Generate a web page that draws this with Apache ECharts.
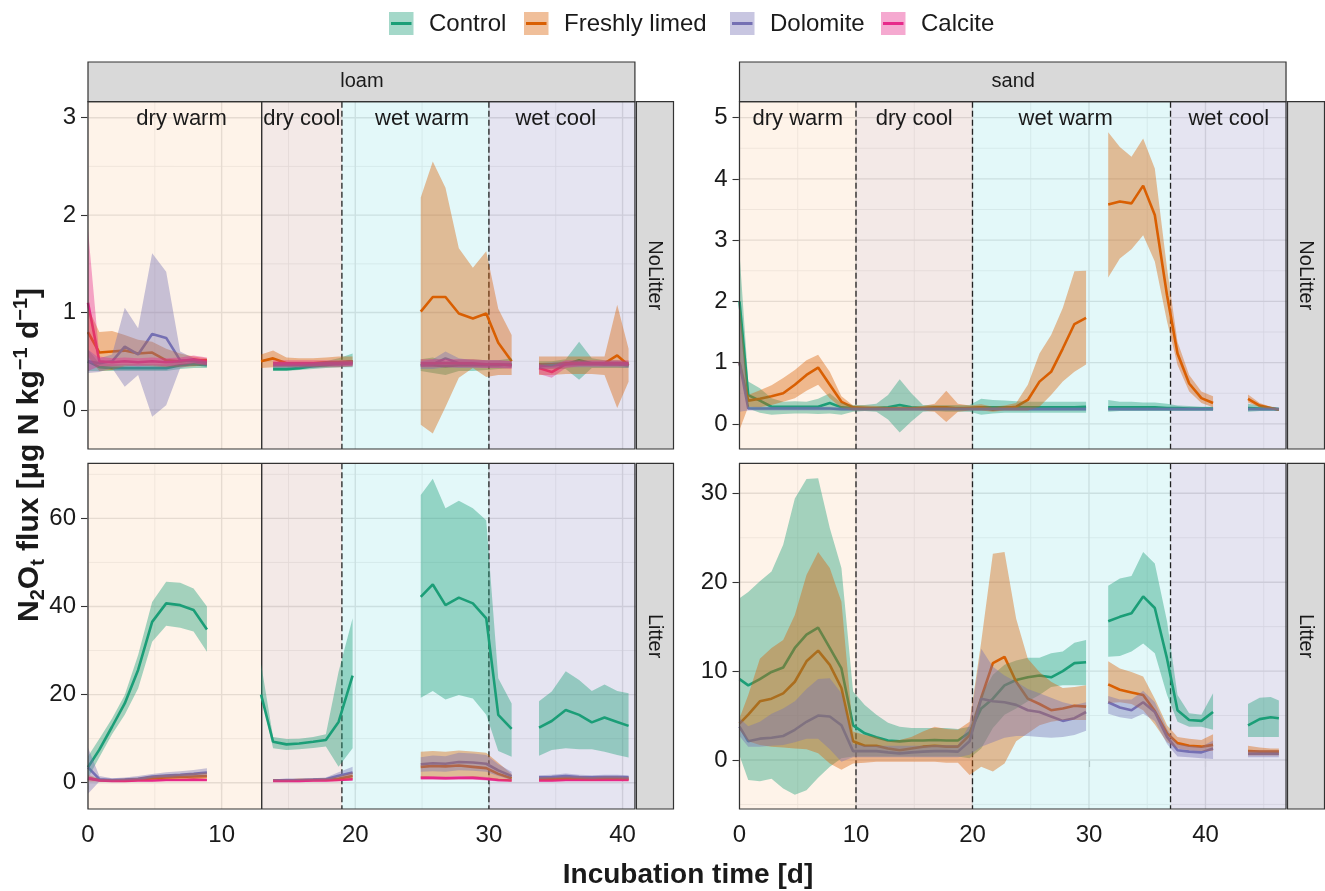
<!DOCTYPE html>
<html>
<head>
<meta charset="utf-8">
<script src="https://cdn.jsdelivr.net/npm/echarts@6.0.0/dist/echarts.min.js"></script>
<style>
  html, body { margin: 0; padding: 0; background: #fff; }
  #main { width: 1325px; height: 891px; }
</style>
</head>
<body>
<div id="main"></div>
<script>
// ---- data ----
var treatments = ['Control', 'Freshly limed', 'Dolomite', 'Calcite'];
var lineColors = ['#1B9E77', '#D95F02', '#7570B3', '#E7298A'];

// sampling days (null = gap between phases)
var loamTime = [
  0, 0.85, 1.8, 2.75, 3.75, 4.8, 5.85, 6.9, 7.9, 8.9, null,
  12.95, 13.85, 14.85, 15.8, 16.85, 17.8, 18.75, 19.8, null,
  24.9, 25.8, 26.75, 27.75, 28.8, 29.8, 30.7, 31.7, null,
  33.75, 34.7, 35.75, 36.75, 37.7, 38.65, 39.6, 40.45
];
var sandTime = [
  0, 0.75, 1.75, 2.75, 3.75, 4.75, 5.75, 6.75, 7.75, 8.75,
  9.75, 10.75, 11.75, 12.75, 13.75, 14.75, 15.75, 16.75, 17.75, 18.75,
  19.75, 20.75, 21.75, 22.75, 23.75, 24.75, 25.75, 26.75, 27.75, 28.75,
  29.75, null,
  31.65, 32.65, 33.65, 34.65, 35.65, 36.7, 37.6, 38.6, 39.65, 40.65, null,
  43.65, 44.65, 45.6, 46.3
];

// loam, NoLitter
var loamNL_ctrl    = [0.50, 0.44, 0.43, 0.43, 0.43, 0.43, 0.43, 0.46, 0.47, 0.46, null, null, 0.42, 0.42, 0.43, 0.45, 0.46, 0.48, 0.50, null, 0.46, 0.46, 0.45, 0.46, 0.46, 0.46, 0.46, 0.47, null, 0.46, 0.46, 0.47, 0.51, 0.48, 0.47, 0.47, 0.46];
var loamNL_ctrl_lo = [0.40, 0.40, 0.40, 0.40, 0.40, 0.40, 0.40, 0.42, 0.43, 0.43, null, null, 0.40, 0.40, 0.41, 0.42, 0.43, 0.44, 0.44, null, 0.40, 0.38, 0.36, 0.40, 0.40, 0.41, 0.42, 0.43, null, 0.42, 0.42, 0.42, 0.31, 0.43, 0.43, 0.43, 0.43];
var loamNL_ctrl_hi = [0.62, 0.48, 0.47, 0.47, 0.47, 0.47, 0.47, 0.50, 0.51, 0.50, null, null, 0.45, 0.45, 0.46, 0.48, 0.50, 0.53, 0.58, null, 0.52, 0.54, 0.50, 0.52, 0.52, 0.51, 0.51, 0.53, null, 0.50, 0.50, 0.52, 0.70, 0.53, 0.51, 0.51, 0.50];
var loamNL_fresh    = [0.80, 0.59, 0.60, 0.61, 0.58, 0.59, 0.51, 0.50, 0.51, 0.51, null, 0.50, 0.53, 0.48, 0.48, 0.48, 0.49, 0.49, 0.50, null, 1.01, 1.16, 1.16, 0.99, 0.94, 0.99, 0.69, 0.50, null, 0.47, 0.47, 0.48, 0.48, 0.48, 0.48, 0.56, 0.46];
var loamNL_fresh_lo = [0.55, 0.40, 0.41, 0.45, 0.46, 0.45, 0.44, 0.44, 0.45, 0.46, null, 0.43, 0.44, 0.44, 0.44, 0.44, 0.44, 0.44, 0.45, null, -0.15, -0.24, 0.03, 0.33, 0.43, 0.34, 0.36, 0.36, null, 0.36, 0.36, 0.37, 0.37, 0.37, 0.36, 0.02, 0.29];
var loamNL_fresh_hi = [1.05, 0.80, 0.81, 0.77, 0.72, 0.70, 0.63, 0.58, 0.55, 0.53, null, 0.57, 0.61, 0.54, 0.53, 0.53, 0.54, 0.55, 0.55, null, 2.18, 2.55, 2.28, 1.66, 1.46, 1.63, 1.04, 0.77, null, 0.55, 0.55, 0.55, 0.55, 0.55, 0.55, 1.08, 0.63];
var loamNL_dolo    = [0.50, 0.48, 0.50, 0.65, 0.57, 0.78, 0.74, 0.51, 0.50, 0.48, null, null, 0.46, 0.46, 0.46, 0.46, 0.47, 0.47, 0.48, null, 0.46, 0.47, 0.53, 0.48, 0.47, 0.47, 0.47, 0.46, null, 0.45, 0.46, 0.47, 0.47, 0.47, 0.47, 0.47, 0.46];
var loamNL_dolo_lo = [0.38, 0.39, 0.43, 0.24, 0.36, -0.07, 0.05, 0.43, 0.46, 0.45, null, null, 0.43, 0.43, 0.43, 0.43, 0.44, 0.44, 0.45, null, 0.42, 0.42, 0.44, 0.43, 0.43, 0.43, 0.43, 0.43, null, 0.42, 0.43, 0.44, 0.44, 0.44, 0.44, 0.44, 0.43];
var loamNL_dolo_hi = [0.62, 0.53, 0.57, 1.05, 0.84, 1.61, 1.42, 0.60, 0.53, 0.50, null, null, 0.49, 0.49, 0.49, 0.49, 0.50, 0.50, 0.51, null, 0.50, 0.52, 0.60, 0.53, 0.51, 0.51, 0.51, 0.50, null, 0.48, 0.49, 0.50, 0.50, 0.50, 0.50, 0.50, 0.49];
var loamNL_calc    = [1.10, 0.50, 0.49, 0.50, 0.49, 0.50, 0.49, 0.50, 0.52, 0.50, null, null, 0.48, 0.48, 0.48, 0.48, 0.48, 0.48, 0.48, null, 0.48, 0.48, 0.48, 0.48, 0.48, 0.47, 0.47, 0.46, null, 0.43, 0.39, 0.47, 0.48, 0.48, 0.48, 0.48, 0.48];
var loamNL_calc_lo = [0.40, 0.45, 0.45, 0.46, 0.45, 0.46, 0.45, 0.46, 0.48, 0.46, null, null, 0.45, 0.45, 0.45, 0.45, 0.45, 0.45, 0.45, null, 0.44, 0.44, 0.44, 0.44, 0.44, 0.43, 0.43, 0.42, null, 0.37, 0.33, 0.43, 0.45, 0.45, 0.45, 0.45, 0.45];
var loamNL_calc_hi = [1.85, 0.55, 0.53, 0.54, 0.53, 0.54, 0.53, 0.54, 0.56, 0.54, null, null, 0.51, 0.51, 0.51, 0.51, 0.51, 0.51, 0.51, null, 0.52, 0.52, 0.52, 0.52, 0.52, 0.51, 0.51, 0.50, null, 0.47, 0.45, 0.51, 0.51, 0.51, 0.51, 0.51, 0.51];

// loam, Litter
var loamL_ctrl    = [3.5, 7.5, 12.7, 18.0, 25.6, 36.5, 40.7, 40.3, 39.2, 34.8, null, 20.0, 9.3, 8.7, 8.9, 9.3, 9.7, 13.8, 24.3, null, 42.2, 45.0, 40.3, 42.0, 40.7, 37.3, 15.4, 12.2, null, 12.5, 14.0, 16.5, 15.4, 13.7, 14.8, 13.8, 12.9];
var loamL_ctrl_lo = [1.0, 5.8, 11.0, 15.4, 21.4, 32.0, 35.6, 35.2, 34.3, 29.7, null, 19.9, 7.8, 7.4, 7.6, 7.9, 8.2, 3.6, 7.8, null, 19.3, 20.8, 18.9, 19.9, 19.1, 15.4, 7.2, 5.9, null, 6.1, 7.4, 7.8, 7.6, 7.6, 7.0, 6.3, 5.7];
var loamL_ctrl_hi = [6.0, 10.0, 14.6, 19.9, 29.0, 41.0, 45.6, 45.4, 44.1, 40.0, null, 27.0, 10.4, 9.9, 10.0, 10.4, 11.0, 25.2, 37.3, null, 65.3, 69.0, 62.3, 64.0, 62.3, 59.6, 23.7, 18.0, null, 18.5, 20.7, 25.3, 23.3, 20.8, 22.3, 20.8, 20.3];
var loamL_fresh    = [1.0, 0.6, 0.5, 0.6, 0.7, 1.0, 1.2, 1.3, 1.4, 1.5, null, null, 0.5, 0.5, 0.6, 0.6, 0.7, 0.9, 1.5, null, 3.6, 3.8, 3.7, 3.9, 3.6, 3.3, 2.0, 1.0, null, 0.9, 0.9, 1.0, 1.0, 0.9, 1.0, 1.0, 0.9];
var loamL_fresh_lo = [0.2, 0.3, 0.3, 0.3, 0.4, 0.6, 0.7, 0.8, 0.8, 0.9, null, null, 0.3, 0.3, 0.4, 0.4, 0.4, 0.5, 0.8, null, 1.2, 1.4, 1.3, 1.5, 1.3, 1.2, 0.6, 0.3, null, 0.5, 0.5, 0.6, 0.6, 0.5, 0.6, 0.6, 0.5];
var loamL_fresh_hi = [1.8, 0.9, 0.8, 0.9, 1.1, 1.5, 1.8, 2.0, 2.2, 2.3, null, null, 0.7, 0.7, 0.8, 0.9, 1.0, 1.4, 2.4, null, 7.0, 7.2, 7.0, 7.3, 7.1, 6.8, 4.5, 2.0, null, 1.3, 1.3, 1.4, 1.4, 1.3, 1.4, 1.4, 1.3];
var loamL_dolo    = [3.5, 0.8, 0.6, 0.7, 0.9, 1.4, 1.6, 1.8, 2.0, 2.3, null, null, 0.5, 0.6, 0.6, 0.7, 0.8, 1.6, 2.3, null, 4.2, 4.4, 4.3, 4.7, 4.6, 4.3, 2.8, 1.5, null, 1.2, 1.3, 1.5, 1.3, 1.2, 1.3, 1.3, 1.2];
var loamL_dolo_lo = [-2.5, 0.3, 0.3, 0.4, 0.5, 0.9, 1.0, 1.1, 1.2, 1.3, null, null, 0.3, 0.3, 0.4, 0.4, 0.5, 0.9, 1.2, null, 2.5, 2.6, 2.5, 2.8, 2.7, 2.5, 1.5, 0.6, null, 0.7, 0.8, 0.9, 0.8, 0.7, 0.8, 0.8, 0.7];
var loamL_dolo_hi = [8.0, 1.5, 1.0, 1.2, 1.5, 2.0, 2.4, 2.6, 2.9, 3.3, null, null, 0.7, 0.8, 0.8, 1.0, 1.2, 2.4, 3.6, null, 5.8, 6.2, 6.0, 6.8, 6.6, 6.3, 4.2, 2.5, null, 1.7, 1.8, 2.1, 1.8, 1.7, 1.8, 1.8, 1.7];
var loamL_calc    = [1.0, 0.5, 0.4, 0.4, 0.5, 0.5, 0.6, 0.6, 0.7, 0.6, null, null, 0.4, 0.4, 0.4, 0.5, 0.5, 0.6, 0.8, null, 1.1, 1.1, 1.0, 1.1, 1.1, 0.9, 0.6, 0.5, null, 0.5, 0.5, 0.6, 0.6, 0.6, 0.6, 0.6, 0.6];
var loamL_calc_lo = [0.5, 0.3, 0.2, 0.2, 0.3, 0.3, 0.4, 0.4, 0.5, 0.4, null, null, 0.2, 0.2, 0.2, 0.3, 0.3, 0.4, 0.5, null, 0.7, 0.7, 0.6, 0.7, 0.7, 0.5, 0.3, 0.3, null, 0.3, 0.3, 0.4, 0.4, 0.4, 0.4, 0.4, 0.4];
var loamL_calc_hi = [1.5, 0.7, 0.6, 0.6, 0.7, 0.7, 0.8, 0.8, 0.9, 0.8, null, null, 0.6, 0.6, 0.6, 0.7, 0.7, 0.8, 1.1, null, 1.5, 1.5, 1.4, 1.5, 1.5, 1.3, 0.9, 0.7, null, 0.7, 0.7, 0.8, 0.8, 0.8, 0.8, 0.8, 0.8];

// sand, NoLitter
var sandNL_ctrl = [
  2.0, 0.47, 0.38, 0.28, 0.28, 0.28, 0.28, 0.28, 0.34, 0.27,
  0.26, 0.26, 0.26, 0.27, 0.31, 0.27, 0.26, 0.26, 0.26, 0.26,
  0.26, 0.27, 0.27, 0.27, 0.27, 0.27, 0.27, 0.27, 0.27, 0.27,
  0.28, null,
  0.27, 0.27, 0.27, 0.27, 0.27, 0.26, 0.26, 0.25, 0.25, 0.25, null,
  0.26, 0.25, 0.25, 0.24];
var sandNL_ctrl_lo = [
  1.0, 0.25, 0.18, 0.15, 0.16, 0.17, 0.17, 0.16, 0.17, 0.15,
  0.20, 0.21, 0.20, 0.07, -0.14, 0.04, 0.20, 0.21, 0.20, 0.20,
  0.20, 0.15, 0.17, 0.18, 0.18, 0.18, 0.18, 0.18, 0.18, 0.18,
  0.18, null,
  0.20, 0.21, 0.21, 0.21, 0.21, 0.21, 0.21, 0.21, 0.21, 0.21, null,
  0.20, 0.21, 0.21, 0.21];
var sandNL_ctrl_hi = [
  2.8, 0.69, 0.58, 0.42, 0.36, 0.37, 0.36, 0.41, 0.50, 0.34,
  0.31, 0.31, 0.33, 0.47, 0.73, 0.50, 0.31, 0.31, 0.31, 0.31,
  0.31, 0.41, 0.39, 0.38, 0.37, 0.36, 0.36, 0.36, 0.36, 0.36,
  0.36, null,
  0.39, 0.36, 0.36, 0.35, 0.35, 0.33, 0.30, 0.29, 0.28, 0.28, null,
  0.33, 0.30, 0.28, 0.27];
var sandNL_fresh = [
  1.0, 0.38, 0.41, 0.45, 0.50, 0.64, 0.80, 0.92, 0.64, 0.36,
  0.27, 0.26, 0.25, 0.25, 0.25, 0.25, 0.26, 0.27, 0.27, 0.25,
  0.26, 0.27, 0.23, 0.26, 0.28, 0.39, 0.69, 0.85, 1.23, 1.63,
  1.73, null,
  3.58, 3.63, 3.60, 3.89, 3.41, 2.10, 1.15, 0.66, 0.42, 0.34, null,
  0.41, 0.30, 0.26, 0.23];
var sandNL_fresh_lo = [
  -0.10, 0.28, 0.27, 0.31, 0.36, 0.42, 0.54, 0.64, 0.42, 0.26,
  0.22, 0.22, 0.22, 0.22, 0.22, 0.22, 0.22, 0.20, 0.03, 0.20,
  0.22, 0.22, 0.20, 0.22, 0.22, 0.22, 0.28, 0.47, 0.69, 0.85,
  0.97, null,
  2.39, 2.70, 2.85, 3.08, 2.65, 1.67, 0.96, 0.53, 0.34, 0.27, null,
  0.35, 0.27, 0.24, 0.21];
var sandNL_fresh_hi = [
  2.0, 0.47, 0.55, 0.63, 0.75, 0.88, 1.04, 1.13, 0.85, 0.45,
  0.30, 0.30, 0.29, 0.28, 0.28, 0.28, 0.29, 0.33, 0.54, 0.33,
  0.30, 0.32, 0.28, 0.30, 0.34, 0.64, 1.15, 1.45, 1.89, 2.49,
  2.50, null,
  4.76, 4.52, 4.36, 4.66, 4.17, 2.54, 1.34, 0.80, 0.53, 0.45, null,
  0.48, 0.34, 0.28, 0.25];
var sandNL_dolo = [
  1.0, 0.25, 0.25, 0.25, 0.25, 0.25, 0.25, 0.25, 0.25, 0.24,
  0.24, 0.24, 0.24, 0.24, 0.24, 0.24, 0.24, 0.24, 0.24, 0.24,
  0.24, 0.24, 0.24, 0.24, 0.24, 0.24, 0.24, 0.24, 0.24, 0.24,
  0.24, null,
  0.24, 0.24, 0.24, 0.24, 0.24, 0.24, 0.24, 0.24, 0.24, 0.24, null,
  0.24, 0.24, 0.24, 0.24];
var sandNL_dolo_lo = [
  0.20, 0.22, 0.22, 0.22, 0.22, 0.22, 0.22, 0.22, 0.22, 0.22,
  0.22, 0.22, 0.22, 0.22, 0.22, 0.22, 0.22, 0.22, 0.22, 0.22,
  0.22, 0.22, 0.22, 0.22, 0.22, 0.22, 0.22, 0.22, 0.22, 0.22,
  0.22, null,
  0.22, 0.22, 0.22, 0.22, 0.22, 0.22, 0.22, 0.22, 0.22, 0.22, null,
  0.22, 0.22, 0.22, 0.22];
var sandNL_dolo_hi = [
  1.90, 0.28, 0.28, 0.28, 0.28, 0.28, 0.28, 0.28, 0.28, 0.27,
  0.27, 0.27, 0.27, 0.27, 0.27, 0.27, 0.27, 0.27, 0.27, 0.27,
  0.27, 0.27, 0.27, 0.27, 0.27, 0.27, 0.27, 0.27, 0.27, 0.27,
  0.27, null,
  0.27, 0.27, 0.27, 0.27, 0.27, 0.27, 0.27, 0.27, 0.27, 0.27, null,
  0.27, 0.27, 0.27, 0.27];

// sand, Litter
var sandL_ctrl = [
  9.1, 8.4, 9.1, 9.9, 10.4, 12.6, 14.1, 14.9, 12.6, 10.3,
  3.9, 3.0, 2.55, 2.2, 2.1, 2.2, 2.2, 2.25, 2.2, 2.2,
  3.1, 5.8, 6.9, 8.4, 9.0, 9.3, 9.5, 9.3, 10.0, 10.9,
  11.0, null,
  15.6, 16.1, 16.5, 18.4, 17.1, 11.4, 5.6, 4.5, 4.4, 5.4, null,
  3.9, 4.6, 4.8, 4.7];
var sandL_ctrl_lo = [
  0.5, -2.25, -2.4, -2.1, -3.2, -3.9, -3.4, -2.0, -0.75, 0.2,
  0.4, 0.4, 0.4, 0.4, 0.4, 0.4, 0.4, 0.4, 0.4, 0.4,
  0.2, 1.3, 3.6, 5.1, 5.8, 6.6, 7.3, 8.2, 8.4, 8.4,
  8.4, null,
  11.6, 11.7, 12.2, 13.1, 12.0, 7.3, 4.3, 3.75, 3.75, 3.4, null,
  2.6, 2.6, 2.6, 2.6];
var sandL_ctrl_hi = [
  18.2, 18.9, 20.1, 21.2, 24.2, 29.4, 31.6, 31.7, 26.1, 21.6,
  7.7, 6.2, 5.1, 4.2, 3.75, 3.6, 3.6, 3.6, 3.6, 3.5,
  3.75, 7.3, 9.6, 10.7, 11.2, 11.5, 11.5, 12.0, 12.2, 13.2,
  13.5, null,
  19.6, 20.4, 20.7, 23.4, 22.1, 15.6, 7.3, 5.25, 5.1, 7.5, null,
  6.3, 7.0, 7.1, 6.7];
var sandL_fresh = [
  4.1, 5.1, 6.6, 6.9, 7.5, 8.8, 11.1, 12.3, 10.7, 8.1,
  2.1, 1.6, 1.6, 1.3, 1.1, 1.3, 1.5, 1.6, 1.5, 1.5,
  2.8, 7.0, 10.9, 11.6, 8.8, 6.9, 6.3, 5.6, 5.8, 6.1,
  6.0, null,
  8.5, 7.9, 7.6, 7.3, 5.5, 3.0, 1.9, 1.6, 1.5, 1.7, null,
  1.0, 0.94, 0.94, 0.94];
var sandL_fresh_lo = [
  3.4, 2.1, 1.7, 1.5, 1.4, 1.3, 1.2, 0.75, -0.4, -1.1,
  -0.4, -0.3, -0.2, -0.2, -0.2, -0.2, -0.2, -0.2, -0.3, -0.3,
  -1.7, -0.75, -1.3, -0.4, 2.1, 3.0, 3.9, 4.3, 4.5, 4.5,
  4.5, null,
  6.4, 6.5, 6.3, 5.6, 4.0, 2.0, 1.3, 1.1, 1.0, 1.0, null,
  0.5, 0.5, 0.5, 0.5];
var sandL_fresh_hi = [
  4.7, 7.3, 11.4, 12.6, 13.5, 16.3, 20.8, 23.4, 21.6, 17.8,
  3.2, 2.8, 2.6, 2.1, 2.25, 2.6, 3.2, 3.75, 3.5, 3.4,
  4.3, 13.3, 23.2, 23.4, 15.9, 11.4, 9.9, 8.8, 8.1, 8.2,
  8.4, null,
  11.1, 10.3, 9.9, 9.4, 6.9, 3.9, 2.6, 2.4, 2.25, 2.9, null,
  1.6, 1.4, 1.3, 1.3];
var sandL_dolo = [
  3.75, 2.1, 2.4, 2.5, 2.7, 3.4, 4.3, 5.0, 4.9, 3.9,
  1.0, 1.0, 1.0, 0.86, 0.75, 0.86, 0.94, 1.0, 1.0, 0.94,
  2.1, 6.9, 6.6, 6.5, 6.2, 5.6, 5.4, 4.9, 4.4, 4.7,
  5.4, null,
  6.5, 5.9, 5.6, 6.5, 5.4, 2.6, 1.1, 0.94, 0.86, 1.3, null,
  0.7, 0.7, 0.7, 0.7];
var sandL_dolo_lo = [
  2.7, 1.5, 1.5, 1.6, 1.7, 2.0, 2.4, 2.4, 1.2, -0.2,
  0.3, 0.3, 0.3, 0.3, 0.3, 0.3, 0.3, 0.3, 0.3, 0.3,
  0.6, 1.5, 2.0, 2.5, 2.7, 2.7, 2.6, 2.5, 2.6, 2.8,
  3.3, null,
  5.2, 4.8, 4.6, 5.2, 4.4, 1.8, 0.4, 0.3, 0.2, 0.1, null,
  0.3, 0.3, 0.3, 0.3];
var sandL_dolo_hi = [
  4.7, 3.8, 4.3, 5.2, 5.8, 6.6, 8.0, 9.1, 9.2, 7.5,
  1.8, 1.6, 1.6, 1.6, 1.6, 1.6, 1.6, 1.7, 1.7, 1.7,
  4.0, 12.5, 10.5, 9.5, 8.8, 8.0, 7.5, 7.0, 6.5, 6.2,
  6.5, null,
  7.2, 6.8, 6.8, 7.8, 6.5, 3.5, 1.8, 1.6, 1.5, 2.2, null,
  1.1, 1.1, 1.1, 1.1];

// incubation phases (boundaries in days)
var periodNames = ['dry warm', 'dry cool', 'wet warm', 'wet cool'];
var loamBounds = [0, 13, 19, 30, 41];
var sandBounds = [0, 10, 20, 37, 47];
var loamDashed = [false, true, true];      // dividers at 13, 19, 30
var sandDashed = [true, true, true];       // dividers at 10, 20, 37
var loamLabelX = [7, 16, 25, 35];
var sandLabelX = [5, 15, 28, 42];

// tick labels
var xTicks = [0, 10, 20, 30, 40];
var loamXMinor = [5, 15, 25, 35];
var sandXMinor = [5, 15, 25, 35, 45];
var loamNLTicks = [0, 1, 2, 3],    loamNLMinor = [0.5, 1.5, 2.5];
var sandNLTicks = [0, 1, 2, 3, 4, 5], sandNLMinor = [0.5, 1.5, 2.5, 3.5, 4.5];
var loamLTicks = [0, 20, 40, 60],  loamLMinor = [10, 30, 50, 70];
var sandLTicks = [0, 10, 20, 30],  sandLMinor = [-5, 5, 15, 25];

// ---- chart ----
var FONT = '"Liberation Sans", Arial, Helvetica, sans-serif';
var INK = '#1a1a1a';
var periodFills = ['rgba(253,231,211,0.5)', 'rgba(231,211,207,0.5)', 'rgba(199,241,243,0.5)', 'rgba(203,201,227,0.5)'];

var soils = {
  loam: { time: loamTime, xMax: 43.85, bounds: loamBounds, dashed: loamDashed, labelX: loamLabelX, xMinor: loamXMinor },
  sand: { time: sandTime, xMax: 50.26, bounds: sandBounds, dashed: sandDashed, labelX: sandLabelX, xMinor: sandXMinor }
};

var panels = [
  { soil: 'loam', litter: 'NoLitter', top: true, yMin: -0.40, yMax: 3.164, yTicks: loamNLTicks, yMinor: loamNLMinor,
    grid: { left: 88, top: 101.7, width: 586, height: 347.3 },
    groups: [[loamNL_ctrl, loamNL_ctrl_lo, loamNL_ctrl_hi], [loamNL_fresh, loamNL_fresh_lo, loamNL_fresh_hi],
             [loamNL_dolo, loamNL_dolo_lo, loamNL_dolo_hi], [loamNL_calc, loamNL_calc_lo, loamNL_calc_hi]] },
  { soil: 'sand', litter: 'NoLitter', top: true, yMin: -0.41, yMax: 5.26, yTicks: sandNLTicks, yMinor: sandNLMinor,
    grid: { left: 739.5, top: 101.7, width: 585.5, height: 347.3 },
    groups: [[sandNL_ctrl, sandNL_ctrl_lo, sandNL_ctrl_hi], [sandNL_fresh, sandNL_fresh_lo, sandNL_fresh_hi],
             [sandNL_dolo, sandNL_dolo_lo, sandNL_dolo_hi]] },
  { soil: 'loam', litter: 'Litter', top: false, yMin: -5.97, yMax: 72.5, yTicks: loamLTicks, yMinor: loamLMinor,
    grid: { left: 88, top: 463.3, width: 586, height: 345.7 },
    groups: [[loamL_ctrl, loamL_ctrl_lo, loamL_ctrl_hi], [loamL_fresh, loamL_fresh_lo, loamL_fresh_hi],
             [loamL_dolo, loamL_dolo_lo, loamL_dolo_hi], [loamL_calc, loamL_calc_lo, loamL_calc_hi]] },
  { soil: 'sand', litter: 'Litter', top: false, yMin: -5.51, yMax: 33.37, yTicks: sandLTicks, yMinor: sandLMinor,
    grid: { left: 739.5, top: 463.3, width: 585.5, height: 345.7 },
    groups: [[sandL_ctrl, sandL_ctrl_lo, sandL_ctrl_hi], [sandL_fresh, sandL_fresh_lo, sandL_fresh_hi],
             [sandL_dolo, sandL_dolo_lo, sandL_dolo_hi]] }
];

function hexA(hex, a) {
  var n = parseInt(hex.slice(1), 16);
  return 'rgba(' + (n >> 16) + ',' + ((n >> 8) & 255) + ',' + (n & 255) + ',' + a + ')';
}

function ribbonSegments(time, lo, hi) {
  var segs = [], cur = [];
  time.forEach(function (t, k) {
    if (t == null || lo[k] == null || hi[k] == null) {
      if (cur.length) segs.push(cur);
      cur = [];
    } else {
      cur.push([t, lo[k], hi[k]]);
    }
  });
  if (cur.length) segs.push(cur);
  return segs;
}

var series = [];
panels.forEach(function (p, gi) {
  var s = soils[p.soil];
  var base = { xAxisIndex: gi, yAxisIndex: gi, silent: true, animation: false };

  // grid lines (under the phase backgrounds)
  series.push(Object.assign({}, base, {
    type: 'custom', z: 1, data: [[0, 0]],
    renderItem: function (params, api) {
      var cs = params.coordSys, kids = [];
      function vl(v, major) {
        var x = api.coord([v, 0])[0];
        kids.push({ type: 'line', shape: { x1: x, y1: cs.y, x2: x, y2: cs.y + cs.height },
          style: { stroke: major ? '#cfcfcf' : '#e0e0e0', lineWidth: major ? 1.4 : 0.9 } });
      }
      function hl(v, major) {
        var y = api.coord([0, v])[1];
        kids.push({ type: 'line', shape: { x1: cs.x, y1: y, x2: cs.x + cs.width, y2: y },
          style: { stroke: major ? '#cfcfcf' : '#e0e0e0', lineWidth: major ? 1.4 : 0.9 } });
      }
      s.xMinor.forEach(function (v) { vl(v, false); });
      p.yMinor.forEach(function (v) { if (v > p.yMin && v < p.yMax) hl(v, false); });
      xTicks.forEach(function (v) { vl(v, true); });
      p.yTicks.forEach(function (v) { hl(v, true); });
      return { type: 'group', children: kids };
    }
  }));

  // phase backgrounds + labels
  series.push(Object.assign({}, base, {
    type: 'custom', z: 2, data: periodNames.map(function (n, k) { return [s.bounds[k], 0]; }),
    renderItem: function (params, api) {
      var cs = params.coordSys, k = params.dataIndex;
      var x1 = api.coord([s.bounds[k], 0])[0], x2 = api.coord([s.bounds[k + 1], 0])[0];
      var kids = [{ type: 'rect', shape: { x: x1, y: cs.y, width: x2 - x1, height: cs.height },
        style: { fill: periodFills[k] } }];
      if (p.top) {
        kids.push({ type: 'text', x: api.coord([s.labelX[k], 0])[0], y: cs.y + 17,
          style: { text: periodNames[k], fontSize: 22, fontFamily: FONT, fill: INK, align: 'center', verticalAlign: 'middle' } });
      }
      return { type: 'group', children: kids };
    }
  }));

  // phase dividers
  series.push(Object.assign({}, base, {
    type: 'custom', z: 3, data: s.dashed.map(function (d, k) { return [s.bounds[k + 1], 0]; }),
    renderItem: function (params, api) {
      var cs = params.coordSys, k = params.dataIndex;
      var x = api.coord([s.bounds[k + 1], 0])[0];
      return { type: 'line', shape: { x1: x, y1: cs.y, x2: x, y2: cs.y + cs.height },
        style: { stroke: '#222', lineWidth: 1.3, lineDash: s.dashed[k] ? [6, 3] : null } };
    }
  }));

  // mean lines
  p.groups.forEach(function (g, ti) {
    series.push(Object.assign({}, base, {
      type: 'line', z: 4, name: treatments[ti], showSymbol: false, symbol: 'none', connectNulls: false,
      lineStyle: { color: lineColors[ti], width: 2.6 }, itemStyle: { color: lineColors[ti] },
      data: s.time.map(function (t, k) {
        return (t == null || g[0][k] == null) ? ['-', '-'] : [t, g[0][k]];
      })
    }));
  });

  // ribbons
  p.groups.forEach(function (g, ti) {
    var segs = ribbonSegments(s.time, g[1], g[2]);
    series.push(Object.assign({}, base, {
      type: 'custom', z: 5, clip: true,
      data: segs.map(function (sg) { return [sg[0][0], sg[0][1]]; }),
      renderItem: function (params, api) {
        var sg = segs[params.dataIndex];
        var up = sg.map(function (q) { return api.coord([q[0], q[2]]); });
        var dn = sg.slice().reverse().map(function (q) { return api.coord([q[0], q[1]]); });
        return { type: 'polygon', shape: { points: up.concat(dn) },
          style: { fill: hexA(lineColors[ti], 0.4) } };
      }
    }));
  });

  // panel frame and facet strips
  series.push(Object.assign({}, base, {
    type: 'custom', z: 6, data: [[0, 0]],
    renderItem: function (params, api) {
      var cs = params.coordSys;
      var xs = api.coord([s.bounds[4], 0])[0];
      var right = cs.x + cs.width;
      var kids = [
        { type: 'rect', shape: { x: cs.x, y: cs.y, width: xs - 1 - cs.x, height: cs.height },
          style: { fill: 'none', stroke: '#333', lineWidth: 1.2 } },
        { type: 'rect', shape: { x: xs + 0.5, y: cs.y, width: right - xs - 1, height: cs.height },
          style: { fill: '#D9D9D9', stroke: '#333', lineWidth: 1.2 } },
        { type: 'text', x: (xs + right) / 2, y: cs.y + cs.height / 2, rotation: -Math.PI / 2,
          style: { text: p.litter, fontSize: 20, fontFamily: FONT, fill: INK, align: 'center', verticalAlign: 'middle' } }
      ];
      if (p.top) {
        kids.push({ type: 'rect', shape: { x: cs.x, y: cs.y - 39.7, width: xs - 1 - cs.x, height: 39.7 },
          style: { fill: '#D9D9D9', stroke: '#333', lineWidth: 1.2 } });
        kids.push({ type: 'text', x: (cs.x + xs) / 2, y: cs.y - 19.8,
          style: { text: p.soil, fontSize: 20, fontFamily: FONT, fill: INK, align: 'center', verticalAlign: 'middle' } });
      }
      return { type: 'group', children: kids };
    }
  }));
});

// legend (ggplot style keys: ribbon fill + line)
var legendKeyX = [389, 524, 730, 881];
var legendTextX = [429, 564, 770, 921];
var graphic = [];
treatments.forEach(function (name, ti) {
  graphic.push({ type: 'rect', shape: { x: legendKeyX[ti], y: 12, width: 24.5, height: 23 },
    style: { fill: hexA(lineColors[ti], 0.4) }, silent: true });
  graphic.push({ type: 'line', shape: { x1: legendKeyX[ti] + 2, y1: 23.5, x2: legendKeyX[ti] + 22.5, y2: 23.5 },
    style: { stroke: lineColors[ti], lineWidth: 3 }, silent: true });
  graphic.push({ type: 'text', x: legendTextX[ti], y: 24,
    style: { text: name, fontSize: 24, fontFamily: FONT, fill: INK, verticalAlign: 'middle' }, silent: true });
});
graphic.push({ type: 'text', x: 688, y: 875, silent: true,
  style: { text: 'Incubation time [d]', fontSize: 28, fontWeight: 'bold', fontFamily: FONT, fill: INK,
    align: 'center', verticalAlign: 'middle' } });
graphic.push({ type: 'text', x: 30, y: 455, rotation: Math.PI / 2, silent: true,
  style: {
    text: '{a|N}{s|2}{a|O}{s|t}{a| flux [µg N kg}{p|\u22121}{a| d}{p|\u22121}{a|]}',
    align: 'center', verticalAlign: 'middle',
    rich: {
      a: { fontSize: 30, fontWeight: 'bold', fontFamily: FONT, fill: INK, lineHeight: 37, verticalAlign: 'middle' },
      s: { fontSize: 20, fontWeight: 'bold', fontFamily: FONT, fill: INK, verticalAlign: 'bottom' },
      p: { fontSize: 20, fontWeight: 'bold', fontFamily: FONT, fill: INK, verticalAlign: 'top' }
    }
  } });

var option = {
  backgroundColor: '#ffffff',
  animation: false,
  grid: panels.map(function (p) { return Object.assign({ show: false }, p.grid); }),
  xAxis: panels.map(function (p, gi) {
    return {
      type: 'value', gridIndex: gi, min: 0, max: soils[p.soil].xMax,
      axisLine: { show: false }, splitLine: { show: false },
      axisTick: { show: !p.top, length: 7, lineStyle: { color: '#333', width: 1.1 }, customValues: xTicks },
      axisLabel: { show: !p.top, customValues: xTicks, fontSize: 24, fontFamily: FONT, color: INK, margin: 14 }
    };
  }),
  yAxis: panels.map(function (p, gi) {
    return {
      type: 'value', gridIndex: gi, min: p.yMin, max: p.yMax,
      axisLine: { show: false }, splitLine: { show: false },
      axisTick: { show: true, length: 7, lineStyle: { color: '#333', width: 1.1 }, customValues: p.yTicks },
      axisLabel: { customValues: p.yTicks, fontSize: 24, fontFamily: FONT, color: INK, margin: 12 }
    };
  }),
  series: series,
  graphic: graphic
};

var chart = echarts.init(document.getElementById('main'), null, { renderer: 'canvas' });
chart.setOption(option);
</script>
</body>
</html>
